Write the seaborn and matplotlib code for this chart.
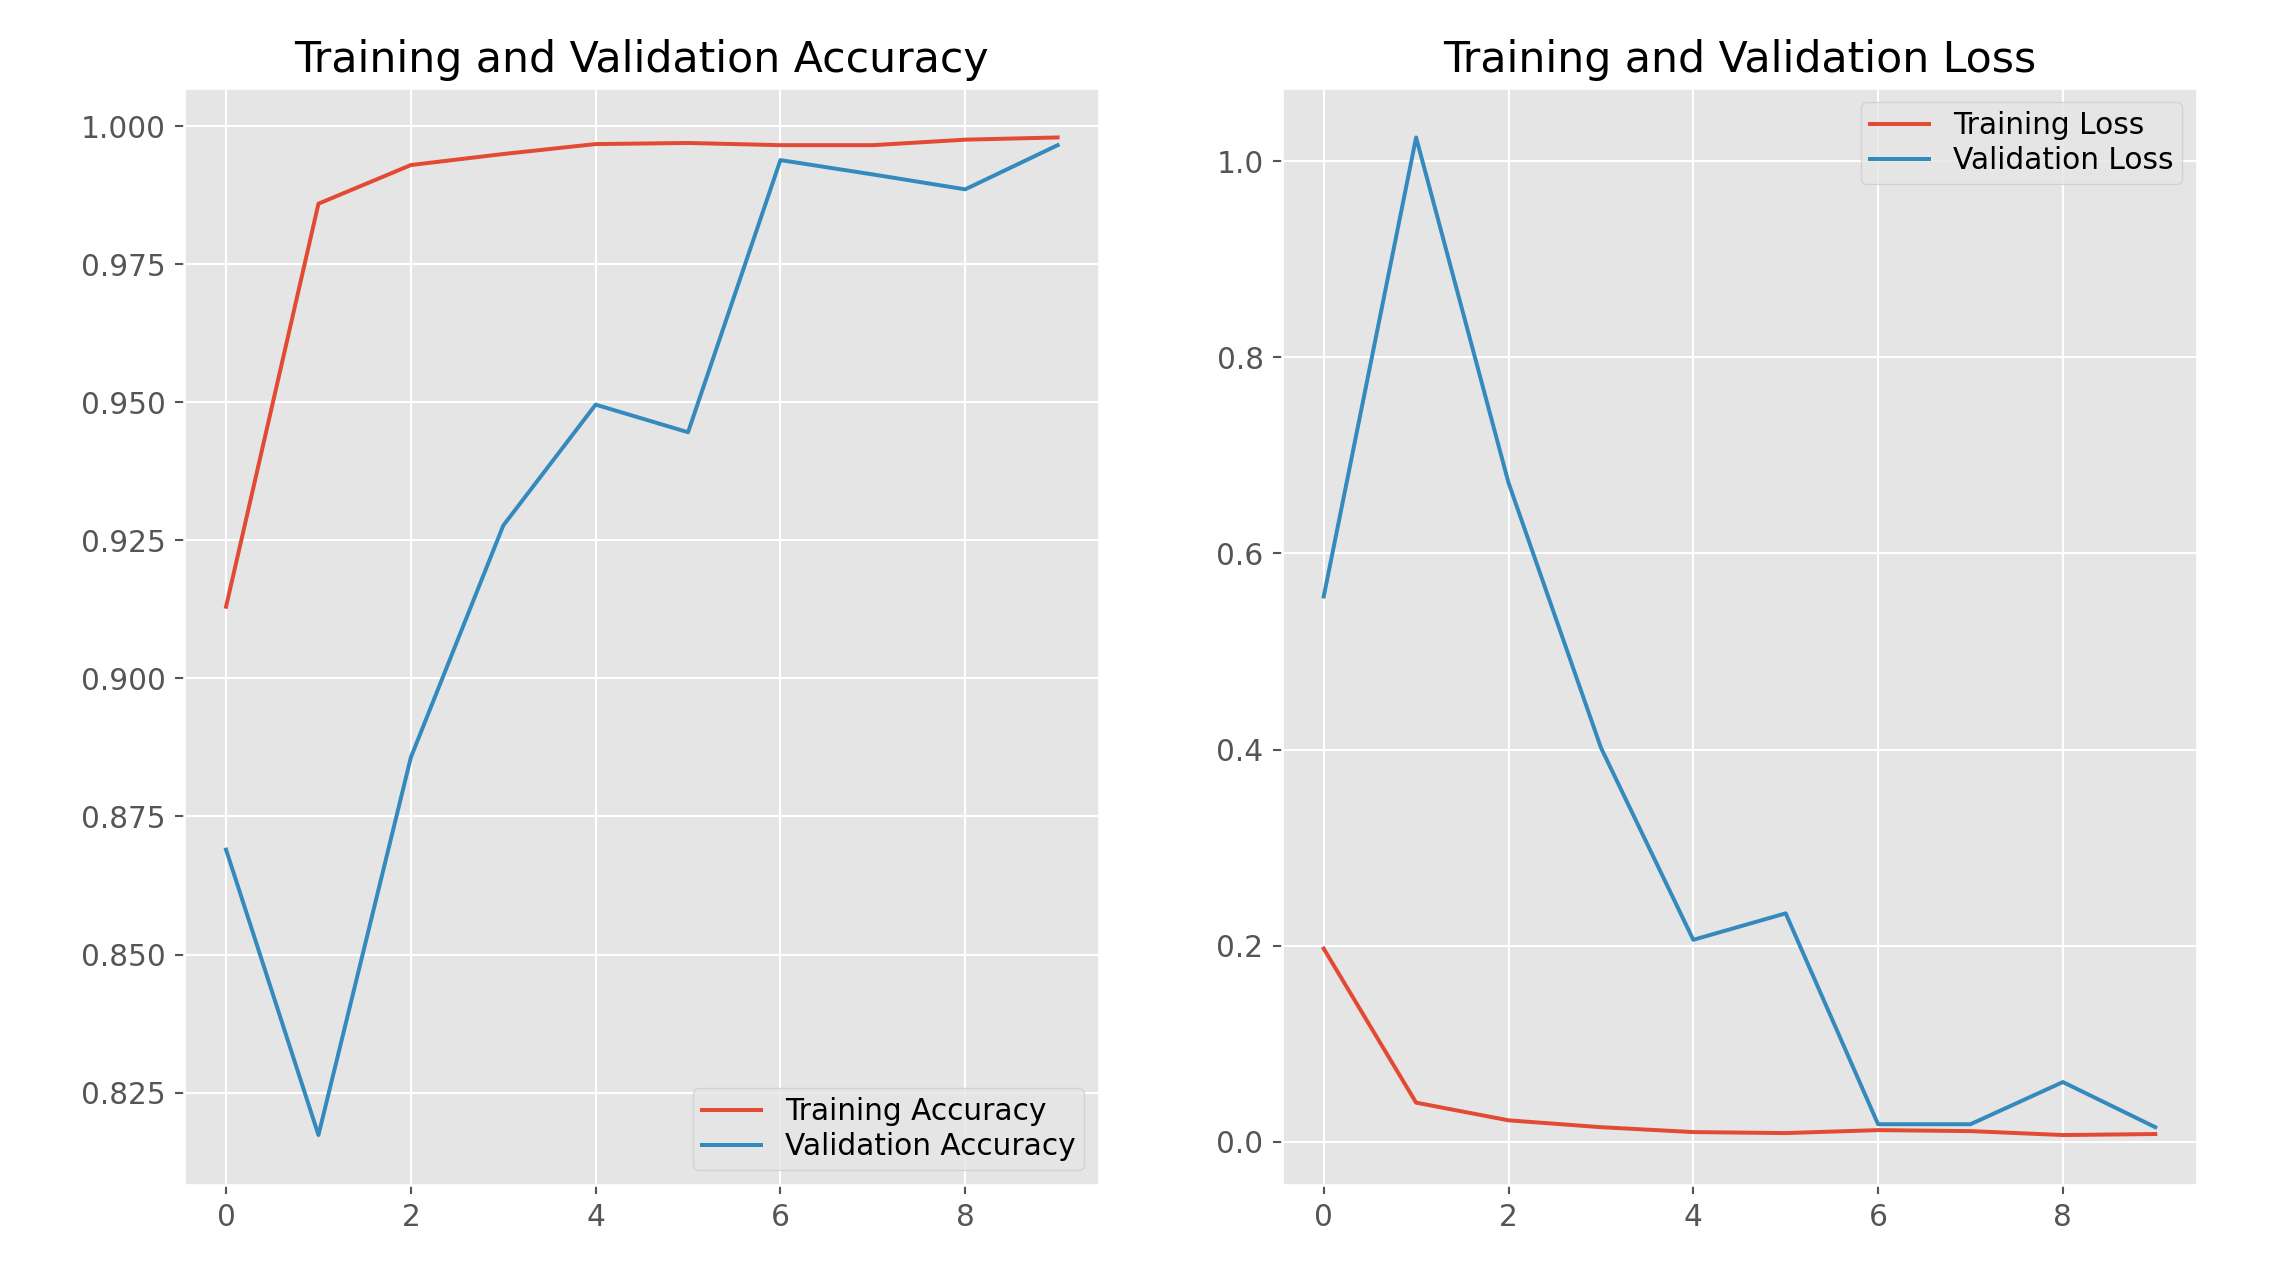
import numpy as np
import pandas as pd
import seaborn as sns
import matplotlib
matplotlib.use("Agg")
import matplotlib.pyplot as plt

# valores
epochs = list(range(10))
train_acc = [0.913, 0.986, 0.993, 0.995, 0.9968, 0.997, 0.9966, 0.9966, 0.9976, 0.998]
val_acc = [0.869, 0.8173, 0.8857, 0.9277, 0.9496, 0.9446, 0.9939, 0.9913, 0.9886, 0.9966]
train_loss = [0.197, 0.040, 0.022, 0.015, 0.010, 0.009, 0.012, 0.011, 0.007, 0.008]
val_loss = [0.556, 1.024, 0.672, 0.402, 0.206, 0.233, 0.018, 0.018, 0.061, 0.015]

plt.style.use("ggplot")
plt.rcParams["font.size"] = 11.2

fig, (ax1, ax2) = plt.subplots(1, 2, figsize=(12, 6.667), dpi=190.5)
fig.subplots_adjust(left=0.0807, right=0.961, bottom=0.067, top=0.931, wspace=0.2)

# Accuracy
sns.lineplot(x=epochs, y=train_acc, label="Training Accuracy", ax=ax1)
sns.lineplot(x=epochs, y=val_acc, label="Validation Accuracy", ax=ax1)
ax1.legend(loc="lower right", labelspacing=0.2, borderpad=0.3)
ax1.set_title("Training and Validation Accuracy")

# Loss
sns.lineplot(x=epochs, y=train_loss, label="Training Loss", ax=ax2)
sns.lineplot(x=epochs, y=val_loss, label="Validation Loss", ax=ax2)
ax2.legend(loc="upper right", labelspacing=0.2, borderpad=0.3)
ax2.set_title("Training and Validation Loss")

fig.savefig("out.png", dpi=190.5)
